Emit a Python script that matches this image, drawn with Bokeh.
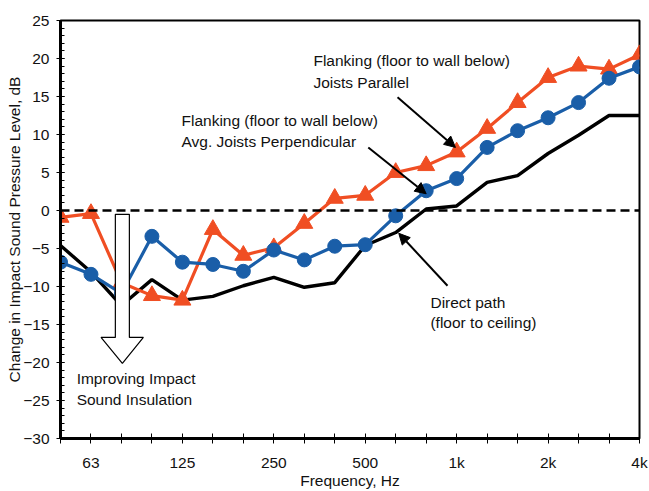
from bokeh.plotting import figure
from bokeh.models import FixedTicker, Arrow, NormalHead, Label, Range1d, Span
from bokeh.embed import file_html
from bokeh.resources import INLINE

# 1/3-octave bands (50 Hz .. 4 kHz)
bands = ["50", "63", "80", "100", "125", "160", "200", "250", "315", "400",
         "500", "630", "800", "1k", "1.25k", "1.6k", "2k", "2.5k", "3.15k", "4k"]
labelled_bands = ["63", "125", "250", "500", "1k", "2k", "4k"]

parallel = [-0.9, -0.4, -9.5, -11.2, -11.8, -2.5, -5.9, -4.9, -1.7, 1.6,
            2.0, 5.0, 5.9, 7.7, 10.8, 14.2, 17.5, 19.0, 18.6, 20.5]
perpendicular = [-6.8, -8.4, -10.9, -3.4, -6.8, -7.1, -8.0, -5.2, -6.5, -4.7,
                 -4.5, -0.7, 2.6, 4.2, 8.3, 10.5, 12.2, 14.2, 17.4, 18.9]
direct = [-4.6, -8.1, -12.5, -9.1, -11.8, -11.3, -9.9, -8.8, -10.1, -9.5,
          -4.6, -2.9, 0.2, 0.6, 3.7, 4.6, 7.5, 9.9, 12.5, 12.5]

y_ticks = list(range(-30, 26, 5))

FONT = "Liberation Sans"
FS = "15.5px"
ORANGE = "#F04E23"
BLUE = "#1A5EA8"

x = list(range(len(bands)))

p = figure(width=649, height=491, output_backend="svg", toolbar_location=None,
           x_range=Range1d(0, len(bands) - 1), y_range=Range1d(-30, 25),
           min_border_left=60, min_border_top=20, min_border_right=10,
           min_border_bottom=53)

p.grid.visible = False
p.outline_line_color = "black"
p.outline_line_width = 2
p.background_fill_color = "white"
p.border_fill_color = "white"

# x axis
p.xaxis.ticker = FixedTicker(ticks=x)
p.xaxis.major_label_overrides = {i: (b if b in labelled_bands else "") for i, b in enumerate(bands)}
p.xaxis.axis_label = "Frequency, Hz"
p.xaxis.major_tick_in = 5
p.xaxis.major_tick_out = 5
p.xaxis.major_label_standoff = 10
p.xaxis.axis_label_standoff = -2

# y axis
p.yaxis.ticker = FixedTicker(ticks=y_ticks, minor_ticks=list(range(-30, 26)))
p.yaxis.axis_label = "Change in Impact Sound Pressure Level, dB"
p.yaxis.major_tick_in = 4
p.yaxis.major_tick_out = 4
p.yaxis.minor_tick_in = 4
p.yaxis.minor_tick_out = 0
p.yaxis.major_label_standoff = 7
p.yaxis.axis_label_standoff = -3

for ax in (p.xaxis, p.yaxis):
    ax.axis_line_width = 3
    ax.axis_line_color = "black"
    ax.major_tick_line_color = "black"
    ax.major_tick_line_width = 1
    ax.minor_tick_line_color = "black"
    ax.minor_tick_line_width = 1
    ax.major_label_text_font = FONT
    ax.major_label_text_font_size = FS
    ax.major_label_text_color = "#111111"
    ax.axis_label_text_font = FONT
    ax.axis_label_text_font_size = FS
    ax.axis_label_text_font_style = "normal"
    ax.axis_label_text_color = "#111111"
p.xaxis.minor_tick_line_color = None

# zero line
p.add_layout(Span(location=0, dimension="width", line_color="black",
                  line_width=2.5, line_dash="9 5"))

# series
p.line(x, direct, line_color="black", line_width=3.4)
p.line(x, parallel, line_color=ORANGE, line_width=3.2)
p.scatter(x, parallel, marker="triangle", size=17, fill_color=ORANGE, line_color=ORANGE)
p.line(x, perpendicular, line_color=BLUE, line_width=3.2)
p.scatter(x, perpendicular, marker="circle", size=14, fill_color=BLUE, line_color=BLUE)

# big hollow arrow
ax_ = [1.8, 2.26, 2.26, 2.72, 2.03, 1.33, 1.8]
ay_ = [-0.5, -0.5, -16.7, -16.7, -20.1, -16.7, -16.7]
p.patch(ax_, ay_, fill_color="white", line_color="black", line_width=1.2)

# annotation arrows
for (x0, y0, x1, y1) in [(11.06, 14.9, 12.96, 8.3),
                         (10.1, 8.3, 12.0, 2.2),
                         (12.7, -9.9, 11.1, -3.0)]:
    p.add_layout(Arrow(end=NormalHead(size=11, fill_color="black", line_color="black"),
                       x_start=x0, y_start=y0, x_end=x1, y_end=y1,
                       line_color="black", line_width=2))

def note(xv, yv, txt):
    p.add_layout(Label(x=xv, y=yv, text=txt, text_font=FONT, text_font_size=FS,
                       text_color="#111111", text_baseline="middle", text_align="left"))

note(8.3, 19.7, "Flanking (floor to wall below)")
note(8.3, 16.9, "Joists Parallel")
note(3.97, 11.8, "Flanking (floor to wall below)")
note(3.97, 9.1, "Avg. Joists Perpendicular")
note(12.14, -12.1, "Direct path")
note(12.14, -14.7, "(floor to ceiling)")
note(0.53, -22.1, "Improving Impact")
note(0.53, -24.9, "Sound Insulation")

open("out.html", "w").write(file_html(p, INLINE))
